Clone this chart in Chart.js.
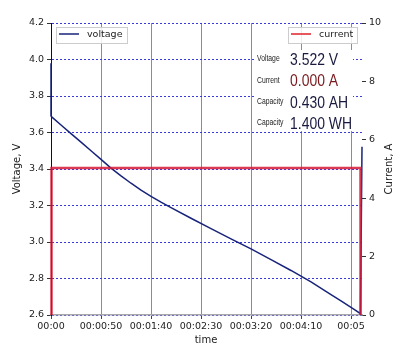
<!DOCTYPE html>
<html>
<head>
<meta charset="utf-8">
<script src="https://cdn.jsdelivr.net/npm/chart.js@4/dist/chart.umd.min.js"></script>
<style>
  html, body { margin: 0; padding: 0; background: #fff; }
  #wrap { width: 400px; height: 354px; }
</style>
</head>
<body>
<div id="wrap"><canvas id="chart" width="400" height="354"></canvas></div>
<script>
// time in seconds
const voltageTime = [0, 0, 1, 10, 20, 30, 40, 50, 60, 70, 80, 90, 100, 110, 120, 140, 160, 180, 200, 220, 240, 260, 280, 290, 300, 305, 309.5, 311];
const voltageValues = [3.98, 3.69, 3.684, 3.641, 3.594, 3.547, 3.500, 3.453, 3.405, 3.362, 3.322, 3.284, 3.250, 3.218, 3.188, 3.130, 3.073, 3.017, 2.962, 2.903, 2.844, 2.781, 2.712, 2.677, 2.642, 2.624, 2.607, 3.522];

const currentTime = [0.5, 0.5, 309.5, 309.5];
const currentValues = [0, 5.03, 5.03, 0];

const xTicks = [0, 50, 100, 150, 200, 250, 300];
const xTickLabels = ['00:00', '00:00:50', '00:01:40', '00:02:30', '00:03:20', '00:04:10', '00:05'];
const voltageTicks = [2.6, 2.8, 3.0, 3.2, 3.4, 3.6, 3.8, 4.0, 4.2];
const currentTicks = [0, 2, 4, 6, 8, 10];

const infoLabels = ['Voltage', 'Current', 'Capacity', 'Capacity'];
const infoValues = ['3.522 V', '0.000 A', '0.430 AH', '1.400 WH'];
const infoColors = ['#1a1a40', '#7a1a1e', '#1a1a40', '#1a1a40'];

const voltageColor = '#17237a';
const currentColor = 'rgba(214, 24, 52, 0.85)';

Chart.defaults.font.family = 'DejaVu Sans';
Chart.defaults.font.size = 9.5;
Chart.defaults.color = '#222';

function toPoints(xs, ys) {
    return xs.map((x, i) => ({ x: x, y: ys[i] }));
}

// squeezed text, the readout uses a narrow face
function narrowText(ctx, text, x, y, squeeze) {
    ctx.save();
    ctx.translate(x, y);
    ctx.scale(squeeze, 1);
    ctx.fillText(text, 0, 0);
    ctx.restore();
}

// legends, axis titles and the readout box are drawn by hand
const overlay = {
    id: 'overlay',
    afterDraw(chart) {
        const ctx = chart.ctx;
        ctx.save();

        // readout box
        ctx.fillStyle = '#fff';
        ctx.fillRect(255, 50, 98, 81);
        const rowY = [59, 80.5, 102, 123];
        ctx.textBaseline = 'middle';
        ctx.textAlign = 'left';
        infoLabels.forEach((lbl, i) => {
            ctx.fillStyle = '#222';
            ctx.font = '8.5px "Liberation Sans", sans-serif';
            narrowText(ctx, lbl, 257, rowY[i], 0.8);
            ctx.fillStyle = infoColors[i];
            ctx.font = '17px "Liberation Sans", sans-serif';
            narrowText(ctx, infoValues[i], 290, rowY[i] + 1, 0.82);
        });

        // legend boxes
        function legendBox(x, y, w, h, color, text) {
            ctx.fillStyle = 'rgba(255,255,255,0.85)';
            ctx.strokeStyle = '#cccccc';
            ctx.lineWidth = 1;
            ctx.fillRect(x, y, w, h);
            ctx.strokeRect(x + 0.5, y + 0.5, w, h);
            ctx.strokeStyle = color;
            ctx.lineWidth = 1.5;
            ctx.beginPath();
            ctx.moveTo(x + 3, y + 7);
            ctx.lineTo(x + 23, y + 7);
            ctx.stroke();
            ctx.fillStyle = '#222';
            ctx.font = '9.5px "DejaVu Sans"';
            ctx.fillText(text, x + 31, y + 7.5);
        }
        legendBox(56, 27, 71, 16, voltageColor, 'voltage');
        legendBox(288, 27, 69, 16, '#e0202a', 'current');

        // axis titles
        ctx.fillStyle = '#222';
        ctx.font = '10px "DejaVu Sans"';
        ctx.textAlign = 'center';
        ctx.fillText('time', 206, 340);
        ctx.save();
        ctx.translate(17, 169);
        ctx.rotate(-Math.PI / 2);
        ctx.fillText('Voltage, V', 0, 0);
        ctx.restore();
        ctx.save();
        ctx.translate(389, 169);
        ctx.rotate(-Math.PI / 2);
        ctx.fillText('Current, A', 0, 0);
        ctx.restore();

        ctx.restore();
    }
};

const ctx = document.getElementById('chart').getContext('2d');
const chart = new Chart(ctx, {
    type: 'line',
    data: {
        datasets: [{
            label: 'current',
            data: toPoints(currentTime, currentValues),
            yAxisID: 'y1',
            borderColor: currentColor,
            borderWidth: 2.5,
            pointRadius: 0,
            tension: 0,
            clip: 3
        }, {
            label: 'voltage',
            data: toPoints(voltageTime, voltageValues),
            yAxisID: 'y',
            borderColor: voltageColor,
            borderWidth: 1.5,
            pointRadius: 0,
            tension: 0,
            clip: 3
        }]
    },
    options: {
        responsive: false,
        animation: false,
        devicePixelRatio: 1,
        layout: { padding: { top: 23, left: 0, right: 0, bottom: 0 } },
        plugins: {
            legend: { display: false },
            tooltip: { enabled: false }
        },
        scales: {
            x: {
                type: 'linear',
                min: 0,
                max: 311,
                afterBuildTicks: s => { s.ticks = xTicks.map(v => ({ value: v })); },
                afterFit: s => { s.height = 39; },
                ticks: {
                    callback: v => xTickLabels[xTicks.indexOf(v)],
                    maxRotation: 0,
                    autoSkip: false,
                    padding: 2
                },
                grid: { color: '#8c8c8c', lineWidth: 1, tickLength: 4, tickColor: '#444' },
                border: { color: '#a8a8a8', width: 1.5 }
            },
            y: {
                position: 'left',
                min: 2.6,
                max: 4.2,
                afterBuildTicks: s => { s.ticks = voltageTicks.map(v => ({ value: v })); },
                afterFit: s => { s.width = 51; },
                ticks: { callback: v => v.toFixed(1), padding: 3 },
                grid: { color: '#3a3ad6', lineWidth: 1, tickLength: 4, tickColor: '#333' },
                border: { color: '#111', width: 1, dash: [2, 2] }
            },
            y1: {
                position: 'right',
                min: 0,
                max: 10,
                afterBuildTicks: s => { s.ticks = currentTicks.map(v => ({ value: v })); },
                afterFit: s => { s.width = 38; },
                ticks: { callback: v => String(v), padding: 3 },
                grid: { drawOnChartArea: false, tickLength: 4, tickColor: '#333' },
                border: { display: false }
            }
        }
    },
    plugins: [overlay]
});
</script>
</body>
</html>
